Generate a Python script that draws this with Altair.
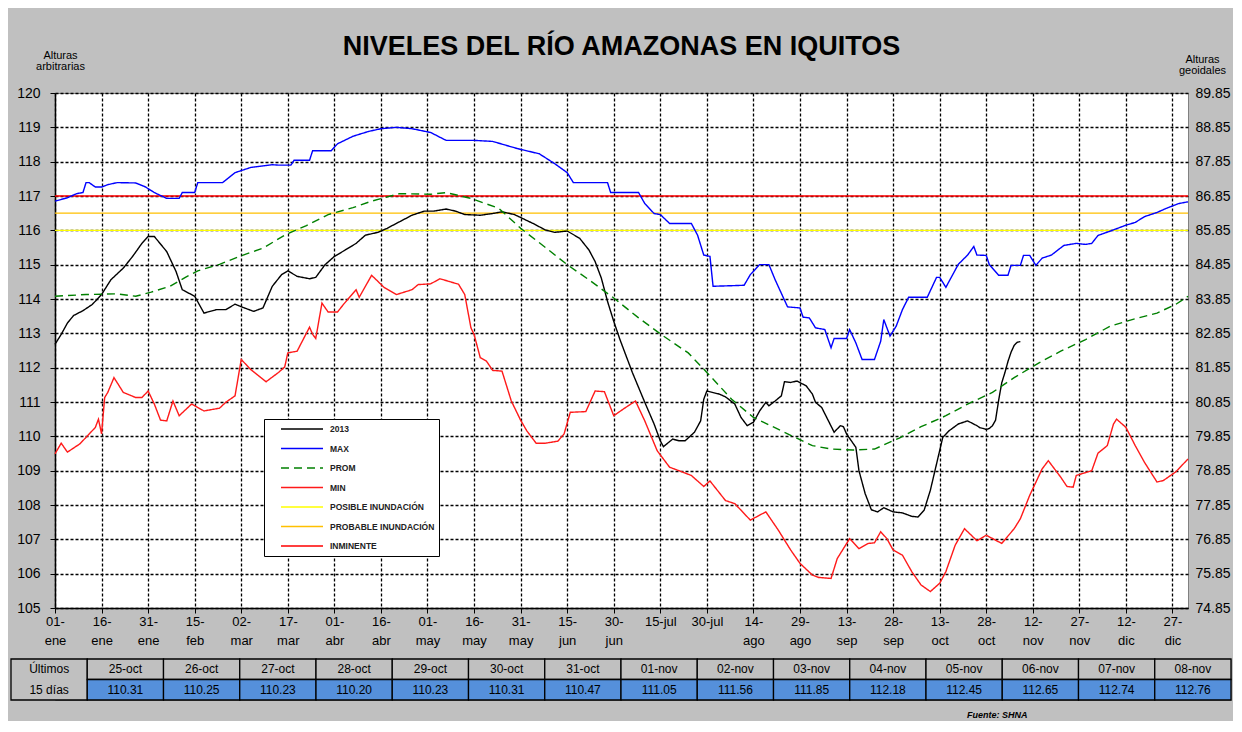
import json
import altair as alt
import pandas as pd

# ---------------- data ----------------
titulo = "NIVELES DEL RÍO AMAZONAS EN IQUITOS"
serie_actual = "2013"
nombres = [serie_actual, "MAX", "PROM", "MIN", "POSIBLE INUNDACIÓN", "PROBABLE INUNDACIÓN", "INMINENTE"]

# x axis tick labels (one every 15 days starting 01-ene)
etiquetas_x = ["01-\nene", "16-\nene", "31-\nene", "15-\nfeb", "02-\nmar", "17-\nmar", "01-\nabr",
               "16-\nabr", "01-\nmay", "16-\nmay", "31-\nmay", "15-\njun", "30-\njun", "15-jul",
               "30-jul", "14-\nago", "29-\nago", "13-\nsep", "28-\nsep", "13-\noct", "28-\noct",
               "12-\nnov", "27-\nnov", "12-\ndic", "27-\ndic"]

dias_max = [0, 4, 7, 9, 10, 11, 13, 15, 17, 20, 26, 29, 32, 36, 40, 41, 45, 46, 54, 58, 63, 70, 72, 76, 77,
            82, 83, 89, 91, 96, 101, 105, 110, 115, 121, 126, 135, 141, 149, 156, 161, 165, 167, 178, 179,
            188, 190, 193, 195, 198, 205, 207, 209, 211, 212, 222, 224, 227, 230, 232, 236, 240, 241, 243,
            245, 248, 250, 251, 255, 256, 258, 260, 264, 266, 267, 269, 271, 273, 275, 281, 284, 285, 287,
            291, 294, 296, 297, 300, 301, 304, 307, 308, 311, 312, 314, 316, 318, 321, 325, 329, 332, 334,
            336, 340, 345, 348, 351, 355, 358, 362, 365]
niv_max = [116.85, 116.95, 117.07, 117.10, 117.39, 117.39, 117.26, 117.26, 117.33, 117.39, 117.38, 117.27,
           117.10, 116.93, 116.93, 117.10, 117.10, 117.39, 117.39, 117.68, 117.83, 117.91, 117.90, 117.90,
           118.04, 118.04, 118.32, 118.32, 118.52, 118.74, 118.88, 118.96, 119.00, 118.96, 118.85, 118.62,
           118.62, 118.59, 118.38, 118.23, 117.94, 117.68, 117.39, 117.39, 117.10, 117.10, 116.78, 116.49,
           116.46, 116.20, 116.20, 115.86, 115.28, 115.24, 114.37, 114.40, 114.71, 115.00, 115.00, 114.56,
           113.77, 113.74, 113.47, 113.45, 113.16, 113.11, 112.58, 112.85, 112.85, 113.11, 112.72, 112.24,
           112.24, 112.77, 113.40, 112.92, 113.21, 113.69, 114.05, 114.05, 114.63, 114.63, 114.34, 115.01,
           115.28, 115.53, 115.28, 115.27, 115.00, 114.69, 114.69, 114.98, 114.98, 115.27, 115.27, 114.98,
           115.19, 115.28, 115.56, 115.62, 115.59, 115.62, 115.85, 115.98, 116.15, 116.23, 116.40, 116.52,
           116.64, 116.78, 116.83]

dias_prom = [0, 10, 20, 26, 31, 37, 42, 46, 53, 60, 67, 74, 81, 88, 96, 102, 111, 121, 126, 134, 143, 150,
             158, 165, 172, 180, 188, 196, 204, 210, 218, 225, 234, 244, 250, 257, 264, 272, 279, 287, 294,
             302, 309, 317, 324, 332, 340, 347, 355, 361, 365]
niv_prom = [114.08, 114.13, 114.15, 114.08, 114.20, 114.37, 114.63, 114.82, 115.01, 115.26, 115.48, 115.86,
            116.14, 116.46, 116.66, 116.85, 117.07, 117.05, 117.10, 116.93, 116.64, 116.06, 115.50, 115.00,
            114.56, 114.03, 113.45, 112.92, 112.43, 111.86, 111.08, 110.55, 110.16, 109.73, 109.63, 109.60,
            109.63, 109.95, 110.28, 110.60, 110.94, 111.28, 111.71, 112.14, 112.48, 112.82, 113.21, 113.40,
            113.59, 113.84, 114.08]

dias_min = [0, 2, 4, 8, 10, 13, 14, 15, 16, 17, 19, 22, 26, 28, 30, 32, 34, 36, 38, 40, 44, 48, 53, 55, 58,
            60, 63, 68, 72, 74, 75, 78, 82, 83, 84, 86, 88, 91, 93, 97, 98, 102, 106, 110, 115, 117, 121, 124,
            127, 130, 132, 134, 135, 137, 139, 141, 144, 147, 150, 152, 155, 158, 162, 164, 166, 171, 174,
            177, 180, 183, 187, 190, 194, 198, 201, 205, 209, 211, 216, 219, 224, 229, 233, 237, 240, 244,
            246, 250, 252, 256, 259, 262, 264, 266, 268, 270, 273, 276, 279, 282, 285, 287, 290, 293, 297,
            300, 305, 309, 311, 314, 318, 320, 324, 326, 328, 329, 334, 336, 339, 341, 342, 345, 348, 351,
            355, 357, 361, 365]
niv_min = [109.49, 109.80, 109.54, 109.78, 109.97, 110.26, 110.50, 110.07, 111.13, 111.28, 111.71, 111.28,
           111.13, 111.13, 111.32, 110.94, 110.47, 110.45, 111.03, 110.60, 110.94, 110.74, 110.82, 110.99,
           111.18, 112.24, 111.95, 111.59, 111.86, 112.02, 112.43, 112.48, 113.18, 112.97, 112.85, 113.88,
           113.62, 113.62, 113.85, 114.27, 114.05, 114.69, 114.34, 114.13, 114.27, 114.42, 114.44, 114.59,
           114.51, 114.43, 114.13, 113.16, 112.97, 112.29, 112.19, 111.92, 111.90, 111.03, 110.47, 110.16,
           109.80, 109.80, 109.86, 110.07, 110.70, 110.72, 111.32, 111.30, 110.60, 110.79, 111.03, 110.45,
           109.58, 109.10, 109.00, 108.86, 108.54, 108.70, 108.13, 108.04, 107.56, 107.80, 107.27, 106.69,
           106.30, 105.96, 105.89, 105.86, 106.44, 107.02, 106.73, 106.88, 106.90, 107.22, 107.02, 106.69,
           106.54, 106.06, 105.67, 105.48, 105.72, 106.06, 106.83, 107.31, 106.96, 107.12, 106.88, 107.31,
           107.60, 108.28, 109.05, 109.29, 108.81, 108.54, 108.52, 108.86, 109.00, 109.51, 109.73, 110.36,
           110.50, 110.26, 109.73, 109.24, 108.67, 108.71, 108.96, 109.34]

dias_act = [0, 2, 4, 6, 9, 12, 15, 18, 22, 25, 28, 30, 32, 36, 39, 41, 45, 48, 52, 55, 58, 61, 64, 67, 70,
            73, 75, 78, 82, 84, 87, 90, 93, 97, 100, 104, 107, 111, 115, 119, 122, 126, 129, 132, 137, 141,
            144, 148, 154, 158, 161, 165, 169, 172, 174, 176, 178, 180, 182, 186, 190, 193, 195, 196, 199,
            201, 203, 206, 208, 209, 210, 214, 216, 219, 221, 223, 225, 227, 229, 230, 232, 234, 235, 237,
            239, 242, 244, 245, 247, 251, 253, 254, 255, 258, 259, 261, 263, 265, 267, 270, 273, 276, 278,
            280, 282, 284, 286, 288, 291, 294]
niv_act = [112.68, 112.97, 113.30, 113.52, 113.66, 113.84, 114.13, 114.56, 114.90, 115.24, 115.62, 115.82,
           115.82, 115.38, 114.80, 114.27, 114.08, 113.59, 113.69, 113.69, 113.85, 113.74, 113.64, 113.74,
           114.37, 114.71, 114.82, 114.66, 114.59, 114.63, 115.00, 115.24, 115.40, 115.62, 115.86, 115.94,
           116.06, 116.25, 116.44, 116.56, 116.56, 116.62, 116.56, 116.46, 116.44, 116.49, 116.54, 116.46,
           116.20, 116.01, 115.94, 115.98, 115.77, 115.43, 115.09, 114.61, 113.93, 113.35, 112.82, 111.86,
           110.99, 110.36, 109.87, 109.70, 109.92, 109.87, 109.87, 110.12, 110.45, 111.08, 111.32, 111.23,
           111.15, 110.94, 110.55, 110.31, 110.41, 110.74, 110.99, 110.89, 111.03, 111.18, 111.59, 111.57,
           111.61, 111.47, 111.23, 110.99, 110.84, 110.12, 110.31, 110.28, 110.07, 109.68, 109.00, 108.33,
           107.86, 107.80, 107.92, 107.80, 107.77, 107.67, 107.65, 107.85, 108.43, 109.20, 109.97, 110.16,
           110.36, 110.45]

# last 15 days (table)
fechas = ["25-oct", "26-oct", "27-oct", "28-oct", "29-oct", "30-oct", "31-oct", "01-nov", "02-nov",
          "03-nov", "04-nov", "05-nov", "06-nov", "07-nov", "08-nov"]
dias_fechas = [297, 298, 299, 300, 301, 302, 303, 304, 305, 306, 307, 308, 309, 310, 311]
valores = [110.31, 110.25, 110.23, 110.20, 110.23, 110.31, 110.47, 111.05, 111.56, 111.85, 112.18,
           112.45, 112.65, 112.74, 112.76]

umbral_nombres = ["POSIBLE INUNDACIÓN", "PROBABLE INUNDACIÓN", "INMINENTE"]
umbral_niveles = [116.0, 116.5, 117.0]

# ---------------- styles ----------------
colores = ["#000000", "#0000ff", "#008000", "#ff1a1a", "#ffff00", "#ffc000", "#ff0000"]
guiones = [[1, 0], [1, 0], [8, 5], [1, 0], [1, 0], [1, 0], [1, 0]]
grosores = [1.4, 1.4, 3.8, 1.4, 1.6, 1.6, 1.4]
FONT = "Liberation Sans"

# ---------------- tables ----------------
filas = []
for nombre, d, v in [(serie_actual, dias_act + dias_fechas, niv_act + valores),
                     ("MAX", dias_max, niv_max), ("PROM", dias_prom, niv_prom), ("MIN", dias_min, niv_min)]:
    for a, b in zip(d, v):
        filas.append({"serie": nombre, "dia": a, "nivel": b})
df_lineas = pd.DataFrame(filas)
df_umbral = pd.DataFrame({"serie": umbral_nombres, "nivel": umbral_niveles})

leyenda = alt.Legend(title=None, orient="none", legendX=209, legendY=326, symbolType="stroke",
                     symbolSize=1764, symbolStrokeWidth=2, symbolOffset=12, labelFontSize=8.5,
                     labelFont=FONT, labelFontWeight="bold", labelColor="#222222", fillColor="white",
                     strokeColor="black", padding=4, clipHeight=12, rowPadding=7.5, labelOffset=6)

color_enc = alt.Color("serie:N", scale=alt.Scale(domain=nombres, range=colores), legend=leyenda)
dash_enc = alt.StrokeDash("serie:N", scale=alt.Scale(domain=nombres, range=guiones), legend=leyenda)
ancho_enc = alt.StrokeWidth("serie:N", scale=alt.Scale(domain=nombres, range=grosores), legend=None)

etiquetas_expr = "split(" + json.dumps(etiquetas_x) + "[round(datum.value/15)], '\\n')"

eje_x = alt.Axis(values=list(range(0, 361, 15)), labelExpr=etiquetas_expr, title=None, grid=True,
                 gridColor="black", gridDash=[3, 2], gridWidth=1.3, tickColor="black", tickSize=5,
                 domainColor="black", domainWidth=1.5, labelFontSize=13, labelLineHeight=19,
                 labelPadding=2, labelColor="black", labelFont=FONT, labelBaseline="top",
                 labelOverlap=False, labelFlush=False)
eje_y = alt.Axis(values=list(range(105, 121)), format="d", title=["Alturas", "arbitrarias"], titleAngle=0,
                 titleX=5, titleY=-44, titleAlign="center", titleBaseline="top", titleFontSize=11,
                 titleFontWeight="normal", titleLineHeight=11, titleFont=FONT, titleColor="black",
                 grid=True, gridColor="black", gridDash=[3, 2], gridWidth=1.3, tickColor="black",
                 tickSize=5, domainColor="black", domainWidth=1.5, labelFontSize=14, labelPadding=10,
                 labelColor="black", labelFont=FONT)
eje_y2 = alt.Axis(orient="right", values=list(range(105, 121)),
                  labelExpr="format(datum.value - 30.15, '.2f')", grid=False, domain=False, ticks=False,
                  labelPadding=7, labelFontSize=14, labelColor="black", labelFont=FONT,
                  title=["Alturas", "geoidales"], titleAngle=0, titleX=14, titleY=-40, titleAlign="center",
                  titleBaseline="top", titleFontSize=11, titleFontWeight="normal", titleLineHeight=11,
                  titleFont=FONT, titleColor="black")

escala_y = alt.Scale(domain=[105, 120], nice=False, zero=False)

reglas = alt.Chart(df_umbral).mark_rule().encode(
    y=alt.Y("nivel:Q", scale=escala_y, axis=eje_y2),
    color=color_enc, strokeDash=dash_enc, strokeWidth=ancho_enc,
)
lineas = alt.Chart(df_lineas).mark_line(interpolate="linear").encode(
    x=alt.X("dia:Q", scale=alt.Scale(domain=[0, 365], nice=False, zero=False), axis=eje_x),
    y=alt.Y("nivel:Q", scale=escala_y, axis=eje_y),
    color=color_enc, strokeDash=dash_enc, strokeWidth=ancho_enc,
    detail="serie:N",
)

principal = alt.layer(reglas, lineas).resolve_axis(y="independent").properties(
    width=1133, height=515,
    title=alt.TitleParams(titulo, fontSize=27, fontWeight="bold", font=FONT, anchor="middle",
                          color="black", offset=-12),
)

# ---------------- bottom table ----------------
col_cab = "Últimos 15 días"
columnas = [col_cab] + fechas
celdas = [{"col": col_cab, "y0": 0, "y1": 2, "tipo": "cab"}]
textos = [{"col": col_cab, "yt": 1.5, "txt": "Últimos"}, {"col": col_cab, "yt": 0.5, "txt": "15 días"}]
for f, v in zip(fechas, valores):
    celdas.append({"col": f, "y0": 1, "y1": 2, "tipo": "cab"})
    celdas.append({"col": f, "y0": 0, "y1": 1, "tipo": "val"})
    textos.append({"col": f, "yt": 1.5, "txt": f})
    textos.append({"col": f, "yt": 0.5, "txt": f"{v:.2f}"})
df_celdas = pd.DataFrame(celdas)
df_textos = pd.DataFrame(textos)

# table runs from the left edge of the chart to its right edge
x_tab = alt.Scale(domain=columnas, paddingInner=0, paddingOuter=0, range=[-44, 1176])
y_tab = alt.Scale(domain=[0, 2], nice=False, zero=False)

rects = alt.Chart(df_celdas).mark_rect(stroke="black", strokeWidth=1.3).encode(
    x=alt.X("col:N", scale=x_tab, axis=None, sort=columnas),
    y=alt.Y("y0:Q", scale=y_tab, axis=None),
    y2="y1:Q",
    fill=alt.Fill("tipo:N", scale=alt.Scale(domain=["cab", "val"], range=["#c0c0c0", "#5590db"]),
                  legend=None),
)
txt = alt.Chart(df_textos).mark_text(font=FONT, fontSize=12, color="black", baseline="middle").encode(
    x=alt.X("col:N", scale=x_tab, axis=None, sort=columnas),
    y=alt.Y("yt:Q", scale=y_tab, axis=None),
    text="txt:N",
)
tabla = alt.layer(rects, txt).properties(
    width=1176, height=41,
    title=alt.TitleParams("Fuente: SHNA", orient="bottom", anchor="start", frame="group", dx=912,
                          fontSize=9, fontStyle="italic", fontWeight="bold", font=FONT, color="black",
                          offset=10),
)

chart = alt.vconcat(principal, tabla, spacing=9).configure(
    background="#c0c0c0", padding={"left": 1, "top": 24, "right": 0, "bottom": 0}
).configure_view(fill="white", stroke="#808080")

chart.save("out.html", embed_options={"renderer": "svg", "actions": False})
